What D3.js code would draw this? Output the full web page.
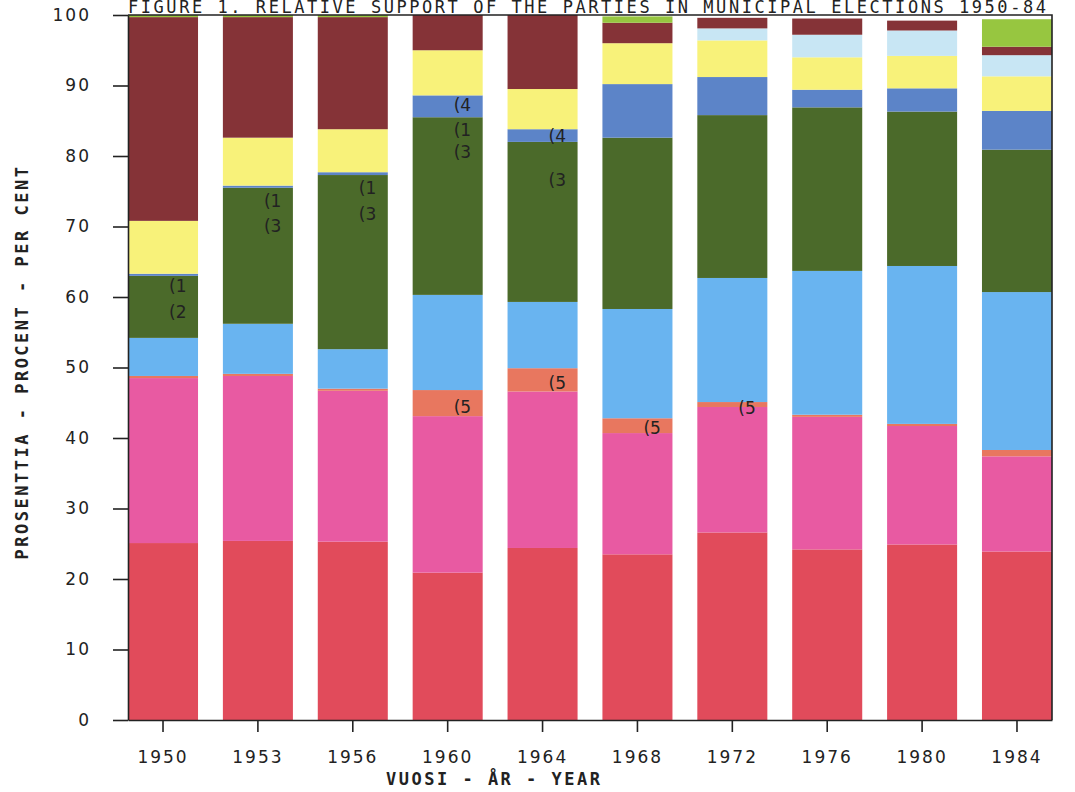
<!DOCTYPE html>
<html><head><meta charset="utf-8">
<script src="https://cdn.jsdelivr.net/npm/d3@7"></script>
<style>body{margin:0;background:#fff}</style>
</head><body><svg id="c" width="1075" height="792"></svg>
<script>
// ---- data (percent shares, stacked bottom to top) ----
const years      = ["1950","1953","1956","1960","1964","1968","1972","1976","1980","1984"];
const red        = [25.1,25.4,25.3,20.9,24.4,23.5,26.6,24.2,24.9,23.9];
const pink       = [23.4,23.4,21.4,22.2,22.2,17.2,17.8,18.8,16.8,13.5];
const orange     = [0.3,0.3,0.3,3.7,3.3,2.1,0.7,0.3,0.3,0.9];
const lightBlue  = [5.4,7.1,5.6,13.5,9.4,15.5,17.6,20.4,22.4,22.4];
const darkGreen  = [8.8,19.3,24.7,25.2,22.7,24.3,23.1,23.2,21.9,20.2];
const midBlue    = [0.3,0.3,0.4,3.1,1.8,7.6,5.4,2.5,3.3,5.5];
const yellow     = [7.5,6.8,6.1,6.4,5.7,5.8,5.2,4.6,4.6,4.9];
const paleCyan   = [0,0,0,0,0,0,1.7,3.2,3.6,3.0];
const maroon     = [28.9,17.1,15.9,5.0,10.5,2.9,1.5,2.3,1.4,1.2];
const lightGreen = [0.3,0.3,0.3,0,0,0.9,0,0,0,3.9];
const yTicks     = [0,10,20,30,40,50,60,70,80,90,100];

// footnote markers inside bars
const annotYears  = ["1950","1950","1953","1953","1956","1956","1960","1960","1960","1960","1964","1964","1964","1968","1972"];
const annotValues = [61.6,57.9,73.6,70.1,75.5,71.8,87.2,83.7,80.6,44.4,82.8,76.6,47.8,41.4,44.3];
const annotLabels = ["(1","(2","(1","(3","(1","(3","(4","(1","(3","(5","(4","(3","(5","(5","(5"];

const titleText = "FIGURE 1. RELATIVE SUPPORT OF THE PARTIES IN MUNICIPAL ELECTIONS 1950-84";
const yTitle = "PROSENTTIA - PROCENT - PER CENT";
const xTitle = "VUOSI - ÅR - YEAR";

// ---- build table ----
const seriesKeys = ["red","pink","orange","lightBlue","darkGreen","midBlue","yellow","paleCyan","maroon","lightGreen"];
const seriesVals = [red,pink,orange,lightBlue,darkGreen,midBlue,yellow,paleCyan,maroon,lightGreen];
const colors = {red:"#e14b5b",pink:"#e85aa2",orange:"#e8775f",lightBlue:"#69b4f0",darkGreen:"#4b6a2a",
  midBlue:"#5c84c8",yellow:"#f8f27a",paleCyan:"#c8e6f4",maroon:"#853337",lightGreen:"#97c640"};
const table = years.map((yr,i)=>{const o={year:yr}; seriesKeys.forEach((k,j)=>o[k]=seriesVals[j][i]); return o;});

const svg = d3.select("#c");
const mLeft = 128, mRight = 1052, mTop = 15, mBottom = 720;
const x = d3.scaleBand().domain(years).range([mLeft,mRight]).paddingInner(0.262).paddingOuter(0);
const y = d3.scaleLinear().domain([0,100]).range([mBottom,mTop]);

const stacked = d3.stack().keys(seriesKeys)(table);
svg.append("g").selectAll("g").data(stacked).join("g")
  .attr("fill",d=>colors[d.key])
  .selectAll("rect").data(d=>d).join("rect")
  .attr("x",d=>x(d.data.year)).attr("width",x.bandwidth())
  .attr("y",d=>y(d[1])).attr("height",d=>Math.max(0,y(d[0])-y(d[1])));

const mono = "'DejaVu Sans Mono', monospace";
const sans = "'DejaVu Sans', sans-serif";

// annotations
svg.append("g").selectAll("text").data(annotLabels).join("text")
  .attr("x",(d,i)=>x(annotYears[i])+x.bandwidth()/2+6)
  .attr("y",(d,i)=>y(annotValues[i]))
  .attr("dominant-baseline","central")
  .attr("font-family",sans).attr("font-size",17)
  .attr("fill","#222").text(d=>d);

// axes
const yAxis = svg.append("g").attr("transform",`translate(${mLeft},0)`)
  .call(d3.axisLeft(y).tickValues(yTicks).tickSize(15).tickSizeOuter(0).tickPadding(22));
const xAxis = svg.append("g").attr("transform",`translate(0,${mBottom})`)
  .call(d3.axisBottom(x).tickSize(12).tickSizeOuter(0).tickPadding(19));
[yAxis,xAxis].forEach(g=>{
  g.selectAll("path,line").attr("stroke","#222").attr("stroke-width",1.6);
  g.selectAll("text").attr("font-family",sans).attr("font-size",17)
   .attr("letter-spacing",2).attr("fill","#222");
});
// frame (top and right)
svg.append("path").attr("d",`M${mLeft},${mTop}H${mRight}V${mBottom}`)
  .attr("fill","none").attr("stroke","#222").attr("stroke-width",1.6);

// titles
svg.append("text").attr("x",128).attr("y",12.5).attr("font-family",mono).attr("font-size",17)
  .attr("letter-spacing",2.55).attr("fill","#222").text(titleText);
svg.append("text").attr("transform","translate(22,362) rotate(-90)")
  .attr("text-anchor","middle").attr("dominant-baseline","central")
  .attr("font-family",mono).attr("font-size",17).attr("font-weight","bold")
  .attr("letter-spacing",2.5).attr("fill","#222").text(yTitle);
svg.append("text").attr("x",386).attr("y",785)
  .attr("font-family",mono).attr("font-size",17).attr("font-weight","bold")
  .attr("letter-spacing",2.5).attr("fill","#222").text(xTitle);
</script></body></html>
